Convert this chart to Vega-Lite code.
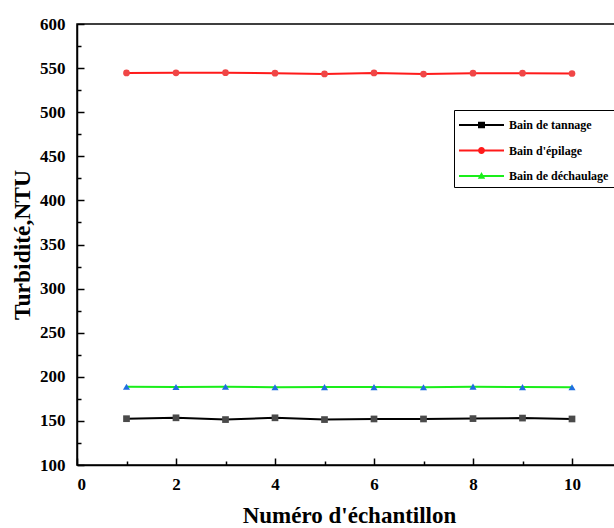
{
  "$schema": "https://vega.github.io/schema/vega-lite/v6.json",
  "autosize": "none",
  "width": 594,
  "height": 441,
  "padding": {"left": 77, "top": 24, "right": 0, "bottom": 63},
  "background": "white",
  "config": {
    "view": {"stroke": "black", "strokeWidth": 1.5},
    "font": "Liberation Serif"
  },
  "data": {"values": [
    {"n": 1, "series": "Bain de tannage", "v": 152.5},
    {"n": 2, "series": "Bain de tannage", "v": 153.5},
    {"n": 3, "series": "Bain de tannage", "v": 151.5},
    {"n": 4, "series": "Bain de tannage", "v": 153.5},
    {"n": 5, "series": "Bain de tannage", "v": 151.5},
    {"n": 6, "series": "Bain de tannage", "v": 152.2},
    {"n": 7, "series": "Bain de tannage", "v": 152.2},
    {"n": 8, "series": "Bain de tannage", "v": 152.6},
    {"n": 9, "series": "Bain de tannage", "v": 153.2},
    {"n": 10, "series": "Bain de tannage", "v": 152.2},
    {"n": 1, "series": "Bain d'épilage", "v": 544.5},
    {"n": 2, "series": "Bain d'épilage", "v": 544.7},
    {"n": 3, "series": "Bain d'épilage", "v": 544.8},
    {"n": 4, "series": "Bain d'épilage", "v": 544.3},
    {"n": 5, "series": "Bain d'épilage", "v": 543.4},
    {"n": 6, "series": "Bain d'épilage", "v": 544.5},
    {"n": 7, "series": "Bain d'épilage", "v": 543.2},
    {"n": 8, "series": "Bain d'épilage", "v": 544.2},
    {"n": 9, "series": "Bain d'épilage", "v": 544.3},
    {"n": 10, "series": "Bain d'épilage", "v": 543.9},
    {"n": 1, "series": "Bain de déchaulage", "v": 188.7},
    {"n": 2, "series": "Bain de déchaulage", "v": 188.5},
    {"n": 3, "series": "Bain de déchaulage", "v": 188.7},
    {"n": 4, "series": "Bain de déchaulage", "v": 188.1},
    {"n": 5, "series": "Bain de déchaulage", "v": 188.3},
    {"n": 6, "series": "Bain de déchaulage", "v": 188.3},
    {"n": 7, "series": "Bain de déchaulage", "v": 188.2},
    {"n": 8, "series": "Bain de déchaulage", "v": 188.8},
    {"n": 9, "series": "Bain de déchaulage", "v": 188.3},
    {"n": 10, "series": "Bain de déchaulage", "v": 188.2}
  ]},
  "encoding": {
    "x": {
      "field": "n", "type": "quantitative",
      "scale": {"domain": [0, 12], "nice": false},
      "axis": {
        "title": "Numéro d'échantillon",
        "titleFont": "Liberation Serif", "titleFontSize": 23, "titleFontWeight": "bold", "titlePadding": 12,
        "titleX": 272, "titleAnchor": "middle",
        "values": [0,1,2,3,4,5,6,7,8,9,10,11,12],
        "labelExpr": "datum.value % 2 === 0 && datum.value < 12 ? datum.label : ''",
        "labelFont": "Liberation Serif", "labelFontSize": 17, "labelFontWeight": "bold", "labelColor": "black",
        "tickSize": {"condition": {"test": "datum.value % 2 === 0", "value": -7}, "value": -4},
        "labelPadding": 18,
        "tickColor": "black", "tickWidth": 1.5,
        "domainColor": "black", "domainWidth": 1.5,
        "grid": false
      }
    },
    "y": {
      "field": "v", "type": "quantitative",
      "scale": {"domain": [100, 600], "nice": false, "zero": false},
      "axis": {
        "title": "Turbidité,NTU",
        "titleFont": "Liberation Serif", "titleFontSize": 23.5, "titleFontWeight": "bold", "titlePadding": 5,
        "values": [100,125,150,175,200,225,250,275,300,325,350,375,400,425,450,475,500,525,550,575,600],
        "labelExpr": "datum.value % 50 === 0 ? datum.label : ''",
        "labelFont": "Liberation Serif", "labelFontSize": 17, "labelFontWeight": "bold", "labelColor": "black",
        "tickSize": {"condition": {"test": "datum.value % 50 === 0", "value": -7}, "value": -4},
        "labelPadding": 19,
        "tickColor": "black", "tickWidth": 1.5,
        "domainColor": "black", "domainWidth": 1.5,
        "grid": false
      }
    }
  },
  "layer": [
    {
      "mark": {"type": "line", "strokeWidth": 2},
      "encoding": {
        "color": {
          "field": "series", "type": "nominal",
          "scale": {"domain": ["Bain de tannage", "Bain d'épilage", "Bain de déchaulage"], "range": ["black", "#ff1a1a", "#1aee1a"]},
          "legend": {
            "title": null, "orient": "none", "legendX": 377, "legendY": 86,
            "strokeColor": "black", "padding": 5, "fillColor": "white",
            "labelFont": "Liberation Serif", "labelFontSize": 12, "labelFontWeight": "bold", "labelColor": "black",
            "symbolSize": 400, "rowPadding": 9.5, "labelOffset": 30,
            "encode": {
              "symbols": {
                "update": {
                  "shape": {"signal": "datum.value === 'Bain de tannage' ? 'M-1,-0.1H3.5V0.1H-1Z M0.9,-0.33H1.6V0.33H0.9Z' : datum.value === \"Bain d'épilage\" ? 'M-1,-0.1H3.5V0.1H-1Z M0.9,0A0.35,0.35 0 1,1 1.6,0A0.35,0.35 0 1,1 0.9,0Z' : 'M-1,-0.1H3.5V0.1H-1Z M0.88,0.28L1.25,-0.4L1.62,0.28Z'"},
                  "fill": {"signal": "datum.value === 'Bain de tannage' ? 'black' : datum.value === \"Bain d'épilage\" ? '#ff1a1a' : '#1aee1a'"},
                  "stroke": {"value": "transparent"},
                  "strokeWidth": {"value": 0},
                  "opacity": {"value": 1}
                }
              }
            }
          }
        }
      }
    },
    {
      "transform": [{"filter": "datum.series === 'Bain de tannage'"}],
      "mark": {"type": "point", "filled": true, "opacity": 1, "size": 45, "shape": "square", "color": "#4a4a4a"}
    },
    {
      "transform": [{"filter": "datum.series === \"Bain d'épilage\""}],
      "mark": {"type": "point", "filled": true, "opacity": 1, "size": 45, "shape": "circle", "color": "#f04646"}
    },
    {
      "transform": [{"filter": "datum.series === 'Bain de déchaulage'"}],
      "mark": {"type": "point", "filled": true, "opacity": 1, "size": 50, "shape": "triangle-up", "color": "#1f6fe0"}
    }
  ]
}
